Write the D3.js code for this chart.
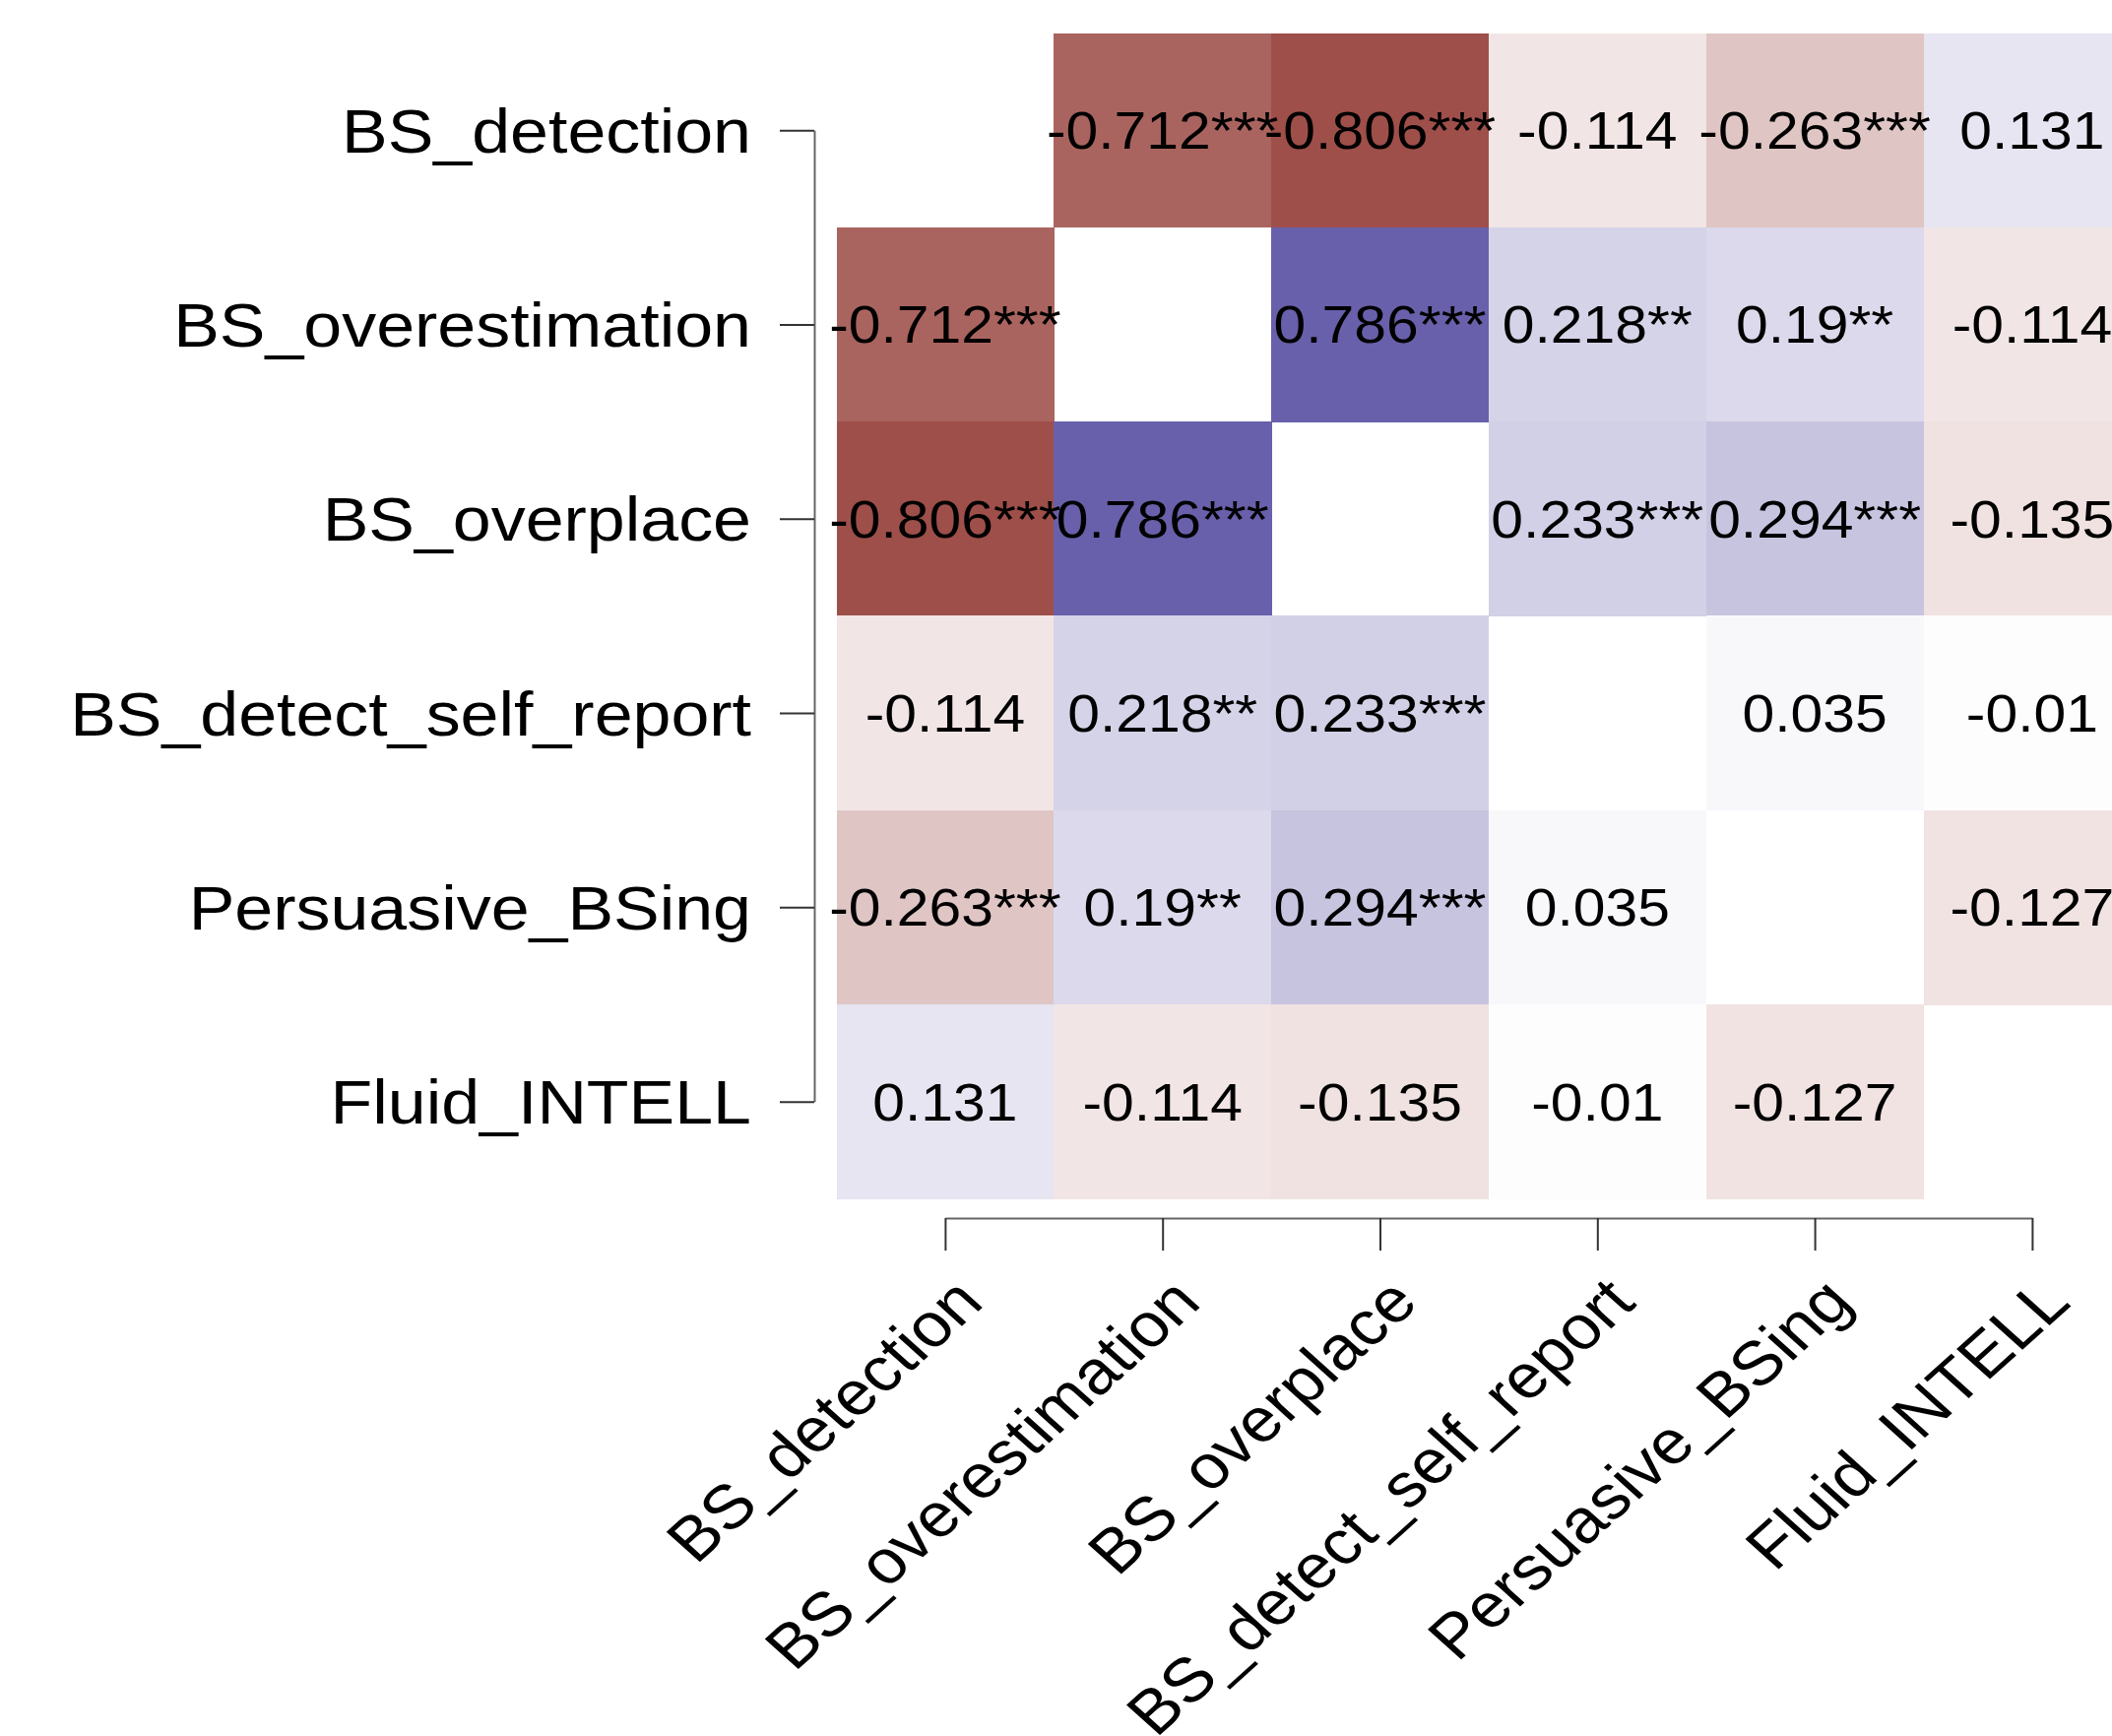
<!DOCTYPE html>
<html>
<head>
<meta charset="utf-8">
<script src="https://cdn.jsdelivr.net/npm/d3@7"></script>
<style>
  body { margin: 0; background: #fff; }
  text { font-family: "Liberation Sans", Arial, sans-serif; fill: #000; }
</style>
</head>
<body>
<div id="chart"></div>
<script>
const variables = ["BS_detection", "BS_overestimation", "BS_overplace",
    "BS_detect_self_report", "Persuasive_BSing", "Fluid_INTELL"];

// correlation matrix (diagonal left empty)
const corrValues = [
    [null, -0.712, -0.806, -0.114, -0.263, 0.131],
    [-0.712, null, 0.786, 0.218, 0.19, -0.114],
    [-0.806, 0.786, null, 0.233, 0.294, -0.135],
    [-0.114, 0.218, 0.233, null, 0.035, -0.01],
    [-0.263, 0.19, 0.294, 0.035, null, -0.127],
    [0.131, -0.114, -0.135, -0.01, -0.127, null]
];

const sigStars = [
    ["", "***", "***", "", "***", ""],
    ["***", "", "***", "**", "**", ""],
    ["***", "***", "", "***", "***", ""],
    ["", "**", "***", "", "", ""],
    ["***", "**", "***", "", "", ""],
    ["", "", "", "", "", ""]
];

const W = 2145, H = 1763;
const stretch = 1.11; // picture is a bit wider than tall

const svg = d3.select('#chart').append('svg')
    .attr('width', W)
    .attr('height', H)
    .style('display', 'block');

svg.append('rect').attr('width', W).attr('height', H).attr('fill', '#fff');

const x = d3.scaleBand()
    .domain(variables)
    .range([849.5, 849.5 + 6 * 220.8]);

const y = d3.scaleBand()
    .domain(variables)
    .range([33.5, 33.5 + 6 * 197.3]);

const color = d3.scaleLinear()
    .domain([-1, 0, 1])
    .range(["#87251e", "#ffffff", "#403594"]);

const cells = [];
corrValues.forEach((row, i) => {
    row.forEach((v, j) => {
        if (v !== null) cells.push({ row: variables[i], col: variables[j], value: v, stars: sigStars[i][j] });
    });
});

svg.selectAll('.cell')
    .data(cells)
  .enter().append('rect')
    .attr('class', 'cell')
    .attr('x', d => x(d.col))
    .attr('y', d => y(d.row))
    .attr('width', x.bandwidth() + 0.5)
    .attr('height', y.bandwidth() + 0.5)
    .attr('fill', d => color(d.value))
    .attr('shape-rendering', 'crispEdges');

svg.selectAll('.cell-label')
    .data(cells)
  .enter().append('text')
    .attr('class', 'cell-label')
    .attr('text-anchor', 'middle')
    .attr('font-size', 53)
    .attr('transform', d => `translate(${x(d.col) + x.bandwidth() / 2},${y(d.row) + y.bandwidth() / 2 + 19}) scale(${stretch},1)`)
    .text(d => String(d.value) + d.stars);

// axes run from first to last tick, like base R
const xAxisScale = d3.scalePoint()
    .domain(variables)
    .range([x(variables[0]) + x.bandwidth() / 2, x(variables[5]) + x.bandwidth() / 2]);

const yAxisScale = d3.scalePoint()
    .domain(variables)
    .range([y(variables[0]) + y.bandwidth() / 2, y(variables[5]) + y.bandwidth() / 2]);

const xAxis = svg.append('g')
    .attr('transform', 'translate(0,1237)')
    .call(d3.axisBottom(xAxisScale).tickSize(33).tickSizeOuter(0).tickFormat(() => ""));

const yAxis = svg.append('g')
    .attr('transform', 'translate(827,0)')
    .call(d3.axisLeft(yAxisScale).tickSize(35).tickSizeOuter(0).tickFormat(() => ""));

[xAxis, yAxis].forEach(g => {
    g.select('.domain').attr('stroke', '#666').attr('stroke-width', 2);
    g.selectAll('.tick line').attr('stroke', '#333').attr('stroke-width', 2);
});

svg.selectAll('.y-label')
    .data(variables)
  .enter().append('text')
    .attr('class', 'y-label')
    .attr('text-anchor', 'end')
    .attr('font-size', 63)
    .attr('transform', d => `translate(763,${yAxisScale(d) + 22.6}) scale(${stretch},1)`)
    .text(d => d);

svg.selectAll('.x-label')
    .data(variables)
  .enter().append('text')
    .attr('class', 'x-label')
    .attr('text-anchor', 'end')
    .attr('font-size', 63)
    .attr('transform', d => `translate(${xAxisScale(d) + 41},1325) scale(${stretch},1) rotate(-45)`)
    .text(d => d);
</script>
</body>
</html>
